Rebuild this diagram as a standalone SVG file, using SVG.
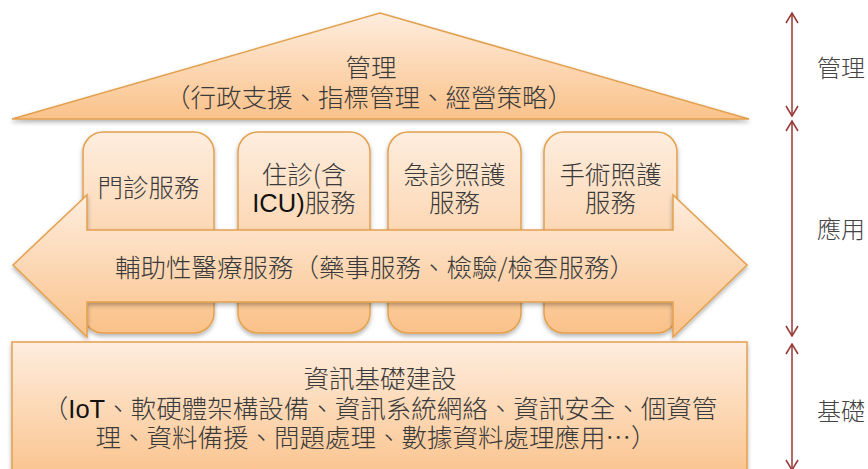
<svg xmlns="http://www.w3.org/2000/svg" width="868" height="469" viewBox="0 0 868 469">
<defs>
<linearGradient id="g" x1="0" y1="0" x2="0" y2="1">
<stop offset="0" stop-color="#FEEDDE"/>
<stop offset="1" stop-color="#FAC28A"/>
</linearGradient>
<filter id="sh" x="-10%" y="-10%" width="120%" height="130%">
<feDropShadow dx="0" dy="2.5" stdDeviation="2" flood-color="#000" flood-opacity="0.3"/>
</filter>
<marker id="ah" viewBox="0 0 12 14" refX="11" refY="7" markerWidth="12" markerHeight="14" markerUnits="userSpaceOnUse" orient="auto-start-reverse">
<path d="M1,1 L11,7 L1,13" fill="none" stroke="#953735" stroke-width="1.5"/>
</marker>
</defs>
<style>
.shape{fill:url(#g);stroke:#E3A04E;stroke-width:1.5;filter:url(#sh)}
.t{font-family:"Noto Sans CJK TC","Liberation Sans",sans-serif;font-size:25.5px;font-weight:300;fill:#3a3a3a;text-anchor:middle}
.lat{font-family:"Liberation Sans","Noto Sans CJK TC",sans-serif;font-weight:400;fill:#111}
.side{font-family:"Noto Sans CJK TC","Liberation Sans",sans-serif;font-size:24px;font-weight:300;fill:#444}
.dim{stroke:#953735;stroke-width:1.5;fill:none;marker-start:url(#ah);marker-end:url(#ah)}
</style>

<g id="roof">
<path class="shape" d="M380,13 L749,119 L12,119 Z"/>
<text class="t" x="371" y="77">管理</text>
<text class="t" x="369" y="107">（行政支援、指標管理、經營策略）</text>
</g>

<g id="box-outpatient">
<rect class="shape" x="83" y="132" width="131" height="201" rx="20"/>
<text class="t" x="148.5" y="197">門診服務</text>
</g>
<g id="box-inpatient">
<rect class="shape" x="238" y="132" width="132" height="201" rx="20"/>
<text class="t" x="304" y="184">住診(含</text>
<text class="t" x="304" y="212"><tspan class="lat">ICU)</tspan>服務</text>
</g>
<g id="box-emergency">
<rect class="shape" x="388" y="132" width="133" height="201" rx="20"/>
<text class="t" x="454.5" y="184">急診照護</text>
<text class="t" x="454.5" y="212">服務</text>
</g>
<g id="box-surgery">
<rect class="shape" x="544" y="132" width="133" height="201" rx="20"/>
<text class="t" x="610.5" y="184">手術照護</text>
<text class="t" x="610.5" y="212">服務</text>
</g>

<g id="arrow-aux">
<path class="shape" d="M13,265 L87,195 L87,230 L673,230 L673,195 L747,265 L673,337 L673,302 L87,302 L87,337 Z"/>
<text class="t" x="375" y="277">輔助性醫療服務（藥事服務、檢驗/檢查服務）</text>
</g>

<g id="foundation">
<rect class="shape" x="12" y="342" width="735" height="140"/>
<text class="t" x="380" y="388">資訊基礎建設</text>
<text class="t" x="380" y="418">（<tspan class="lat">IoT</tspan>、軟硬體架構設備、資訊系統網絡、資訊安全、個資管</text>
<text class="t" x="376" y="447">理、資料備援、問題處理、數據資料處理應用…）</text>
</g>

<g id="connectors">
<line class="dim" x1="792" y1="13" x2="792" y2="116"/>
<line class="dim" x1="792" y1="121" x2="792" y2="336"/>
<line class="dim" x1="792" y1="344" x2="792" y2="470"/>
</g>

<g id="labels">
<text class="side" x="817" y="77">管理</text>
<text class="side" x="817" y="238">應用</text>
<text class="side" x="817" y="420">基礎</text>
</g>
</svg>
